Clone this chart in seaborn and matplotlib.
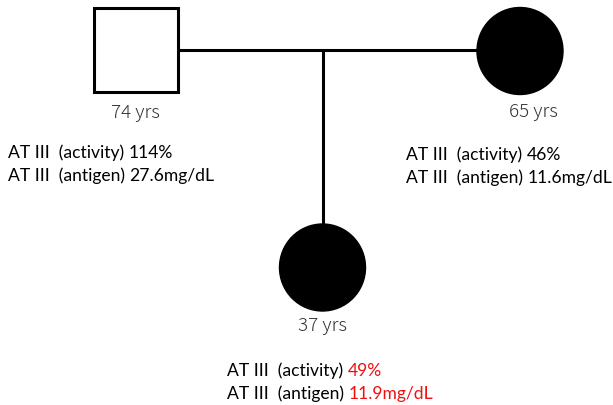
import matplotlib
matplotlib.use("Agg")
import matplotlib.pyplot as plt
import matplotlib.patches as mpatches
import seaborn as sns

# ---- data ----
members = ["father", "mother", "proband"]
ages = [74, 65, 37]
activity = ["114%", "46%", "49%"]
antigen = ["27.6mg/dL", "11.6mg/dL", "11.9mg/dL"]
affected = [False, True, True]
highlight = [False, False, True]

sns.set_theme(style="white")
plt.rcParams['font.family'] = ['Lato', 'DejaVu Sans']

W, H = 613, 405
fig = plt.figure(figsize=(W / 100, H / 100), dpi=100)
ax = fig.add_axes([0, 0, 1, 1])
ax.set_xlim(0, W)
ax.set_ylim(H, 0)
ax.axis("off")

lw = 2.2
# lines
ax.plot([178, 477], [50, 50], color="black", lw=lw, solid_capstyle="butt", zorder=1)
ax.plot([323, 323], [50, 225], color="black", lw=lw, solid_capstyle="butt", zorder=1)

# symbols
sym = {
    "father": (136, 50),
    "mother": (520, 51),
    "proband": (322.5, 267.5),
}
size = 84
for m, aff in zip(members, affected):
    cx, cy = sym[m]
    if m == "father":
        p = mpatches.Rectangle((cx - size / 2, cy - size / 2), size, size,
                               facecolor="white", edgecolor="black", lw=2.2, zorder=2)
    else:
        p = mpatches.Ellipse((cx, cy), 86, 87, facecolor="black" if aff else "white",
                             edgecolor="black", lw=1, zorder=2)
    ax.add_patch(p)

age_pos = {"father": (135, 113), "mother": (533, 112), "proband": (323, 326)}
for m, a in zip(members, ages):
    x, y = age_pos[m]
    ax.text(x, y, f"{a} yrs", ha="center", va="center", fontsize=13.5,
            color="#333333", family=["Noto Sans CJK JP", "DejaVu Sans"], fontweight="light")

text_pos = {"father": (8, 153), "mother": (406, 155), "proband": (227, 371)}
gap = 22.5
fs = 12.6
for m, act, ant, hl in zip(members, activity, antigen, highlight):
    x, y = text_pos[m]
    vcol = "#ee1111" if hl else "black"
    for i, (lab, val) in enumerate([("AT III  (activity) ", act), ("AT III  (antigen) ", ant)]):
        t = ax.text(x, y + i * gap, lab, ha="left", va="center", fontsize=fs, color="black")
        ax.annotate(val, xy=(1, 0.5), xycoords=t, ha="left", va="center",
                    fontsize=fs, color=vcol)

fig.savefig("out.png", dpi=100)
